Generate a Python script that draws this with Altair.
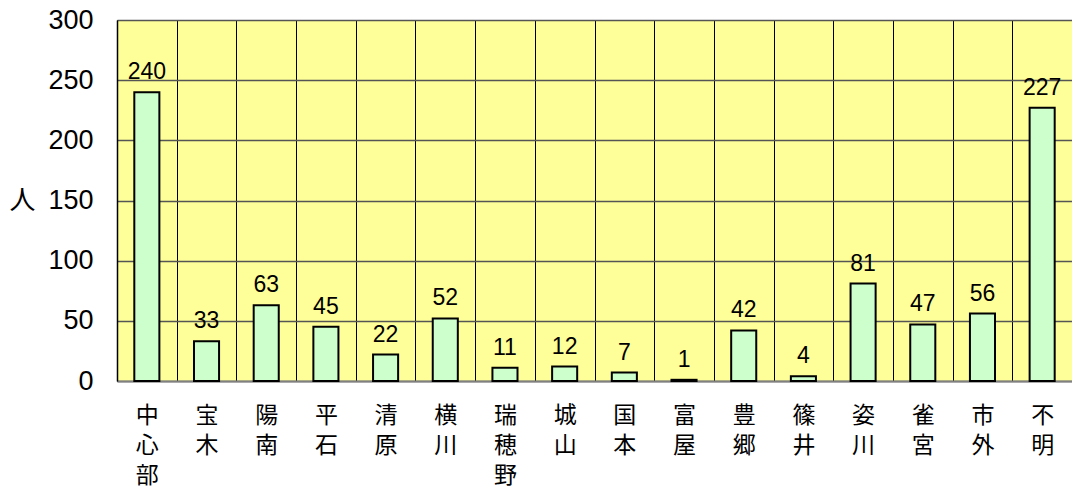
import altair as alt
import pandas as pd

categories = ["中心部", "宝木", "陽南", "平石", "清原", "横川", "瑞穂野", "城山",
              "国本", "富屋", "豊郷", "篠井", "姿川", "雀宮", "市外", "不明"]
values = [240, 33, 63, 45, 22, 52, 11, 12, 7, 1, 42, 4, 81, 47, 56, 227]
y_ticks = [0, 50, 100, 150, 200, 250, 300]

df = pd.DataFrame({"area": categories, "count": values})

x_enc = alt.X(
    "area:N",
    sort=categories,
    scale=alt.Scale(paddingInner=0, paddingOuter=0),
    axis=alt.Axis(
        title=None,
        labelAngle=0,
        ticks=False,
        labelPadding=23,
        labelFont="Noto Sans CJK JP",
        labelFontSize=23,
        labelLineHeight=30,
        labelColor="black",
        labelExpr="split(datum.label, '')",
        grid=True,
        tickBand="extent",
        gridColor="black",
        gridWidth=1,
        domainColor="#808080",
        domainWidth=2,
    ),
)

y_enc = alt.Y(
    "count:Q",
    scale=alt.Scale(domain=[0, 300], nice=False),
    axis=alt.Axis(
        values=y_ticks,
        labelFont="Liberation Sans",
        labelFontSize=27,
        labelColor="black",
        labelPadding=24,
        ticks=False,
        domainColor="black",
        domainWidth=1.5,
        gridColor="#555555",
        gridWidth=1.5,
        title="人",
        titleAngle=0,
        titleFont="Noto Sans CJK JP",
        titleFontSize=26,
        titleFontWeight="normal",
        titleColor="black",
        titleX=-95,
        titleY=180,
        titleAlign="center",
        titleBaseline="middle",
    ),
)

bars = alt.Chart(df).mark_bar(
    width=alt.RelativeBandSize(0.42),
    color="#CCFFCC",
    stroke="black",
    strokeWidth=2,
).encode(x=x_enc, y=y_enc)

labels = alt.Chart(df).mark_text(
    dy=-13,
    baseline="alphabetic",
    fontSize=23,
    font="Liberation Sans",
    color="black",
).encode(x=alt.X("area:N", sort=categories), y="count:Q", text="count:Q")

chart = (
    alt.layer(bars, labels)
    .properties(
        width=955,
        height=361,
        autosize="none",
        padding={"left": 109, "top": 12, "right": 0, "bottom": 108},
    )
    .configure_view(fill="#FFFF99", strokeWidth=0)
)

chart.save("out.html", embed_options={"renderer": "svg", "actions": False})
